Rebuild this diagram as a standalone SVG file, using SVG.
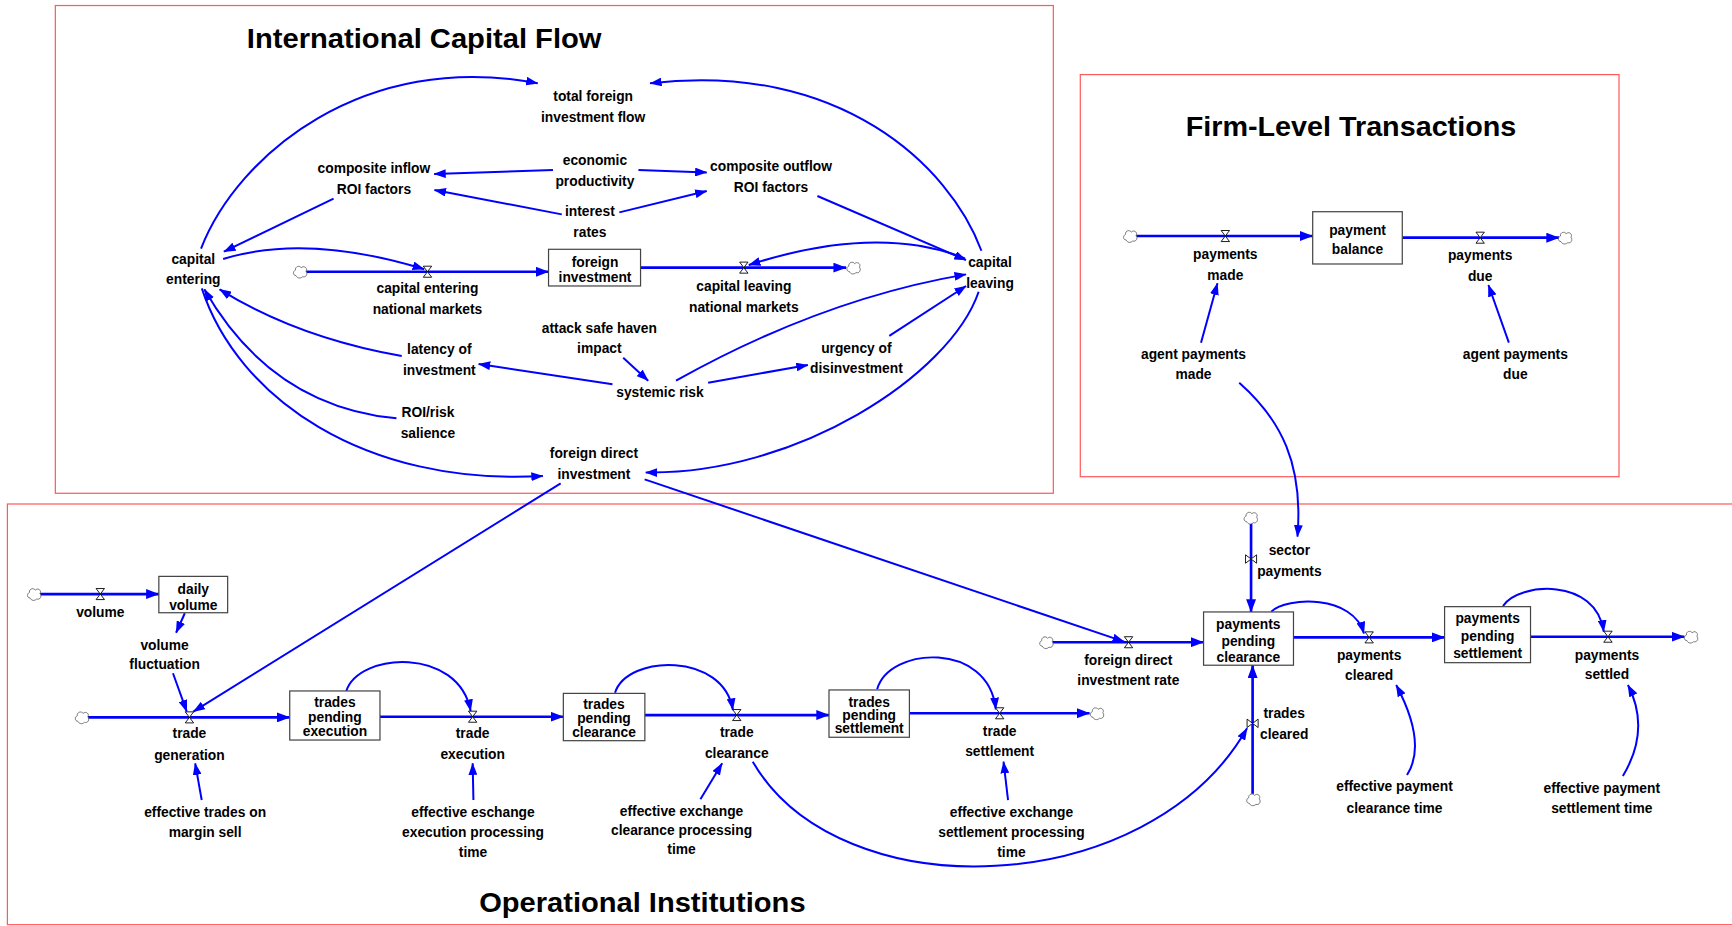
<svg xmlns="http://www.w3.org/2000/svg" width="1732" height="926" viewBox="0 0 1732 926">
<defs>
<style>
text{font-family:"Liberation Sans","DejaVu Sans",sans-serif;font-weight:bold;font-size:12.5px;fill:#000;text-anchor:middle}
.title{font-size:25px;text-anchor:start}
.frame{fill:none;stroke:#ff5a5a;stroke-width:1.1}
.stock{fill:#fff;stroke:#444;stroke-width:1.1}
.link{fill:none;stroke:#0000ff;stroke-width:1.8;marker-end:url(#ah)}
.pipe{fill:none;stroke:#0000ff;stroke-width:2.4;marker-end:url(#fh)}
.pipe0{fill:none;stroke:#0000ff;stroke-width:2.4}
.cloud{fill:#fff;stroke:#555;stroke-width:0.7}
.valve{fill:#fff;stroke:#000;stroke-width:0.8}
</style>
<marker id="ah" markerUnits="userSpaceOnUse" viewBox="0 0 11 8" markerWidth="11" markerHeight="8" refX="10.5" refY="4" orient="auto"><path d="M0,0 L11,4 L0,8 Z" fill="#0000ff"/></marker>
<marker id="fh" markerUnits="userSpaceOnUse" viewBox="0 0 12 9" markerWidth="12" markerHeight="9" refX="11.5" refY="4.5" orient="auto"><path d="M0,0 L12,4.5 L0,9 Z" fill="#0000ff"/></marker>
<symbol id="cl" overflow="visible"><path class="cloud" d="M-4,3.5 C-7,3.5 -7,-0.5 -4.5,-1.5 C-5,-5 -0.5,-6 0.8,-3.5 C2.5,-6 7,-3.5 5,-0.5 C7,2 5,5.5 2,4.5 C0,6.5 -3,6 -4,3.5 Z"/></symbol>
<symbol id="vh" overflow="visible"><path class="valve" d="M-3.8,-5 H3.8 L-3.8,5 H3.8 Z"/></symbol>
<symbol id="vv" overflow="visible"><path class="valve" d="M-5,-3.8 V3.8 L5,-3.8 V3.8 Z"/></symbol>
</defs>
<rect x="0" y="0" width="1732" height="926" fill="#fff"/>
<g transform="scale(1.10459 1.10501)">

<g id="frames">
<rect class="frame" x="50.1" y="5" width="903.5" height="441.4"/>
<rect class="frame" x="978" y="67.5" width="487.7" height="363.9"/>
<rect class="frame" x="6.7" y="456.1" width="1580" height="380.7"/>
<text class="title" x="223.5" y="43.8" textLength="321" lengthAdjust="spacingAndGlyphs">International Capital Flow</text>
<text class="title" x="1073.4" y="123" textLength="299.3" lengthAdjust="spacingAndGlyphs">Firm-Level Transactions</text>
<text class="title" x="433.8" y="825" textLength="295.5" lengthAdjust="spacingAndGlyphs">Operational Institutions</text>
</g>

<g id="connectors">
<!-- flows / pipes -->
<path class="pipe" d="M277,245.9 H496.6"/>
<path class="pipe" d="M580,242.2 H766"/>
<path class="pipe" d="M1028.5,213.6 H1188.4"/>
<path class="pipe" d="M1269.5,215.1 H1411.4"/>
<path class="pipe" d="M36.2,537.6 H143.8"/>
<path class="pipe" d="M79.5,649.2 H262.3"/>
<path class="pipe" d="M344,648.6 H510"/>
<path class="pipe" d="M583.8,647.1 H750.5"/>
<path class="pipe" d="M823.3,645.5 H986.4"/>
<path class="pipe" d="M952.6,581.2 H1089.6"/>
<path class="pipe" d="M1132.6,473.5 V553.8"/>
<path class="pipe" d="M1134,718.4 V602"/>
<path class="pipe" d="M1171,576.8 H1307.8"/>
<path class="pipe" d="M1385.6,576.2 H1524.9"/>
<!-- links -->
<path class="link" d="M182,225 C215,140 330,45 486.8,75.4"/>
<path class="link" d="M888.5,226.9 C860,150 760,55 588.5,75.4"/>
<path class="link" d="M500.6,153.9 L393,157.5"/>
<path class="link" d="M508.6,194 L393.3,172"/>
<path class="link" d="M578,153.9 L639.8,156"/>
<path class="link" d="M560.7,192.2 L639.8,172.9"/>
<path class="link" d="M302,179.8 L202.7,227.8"/>
<path class="link" d="M740,177.4 L874.5,235.3"/>
<path class="link" d="M202,234.4 Q277,211 384,243.6"/>
<path class="link" d="M873.6,233.8 Q794.25,202.4 677.9,239.8"/>
<path class="link" d="M363.7,322.2 Q268.35,305.2 198.8,261.8"/>
<path class="link" d="M358.9,378.6 Q245.45,367.6 185,261.8"/>
<path class="link" d="M182.7,261 C215,360 330,440 491.5,430.8"/>
<path class="link" d="M886,264 C860,340 720,430 584.6,427.5"/>
<path class="link" d="M564.2,323.7 L586.8,344.5"/>
<path class="link" d="M554.5,347.8 L433.3,329.4"/>
<path class="link" d="M641.1,346.3 L731.4,330.3"/>
<path class="link" d="M805.1,304 L874.6,258.8"/>
<path class="link" d="M612,344.5 Q743.9,270.6 874.6,248.3"/>
<path class="link" d="M1087.3,310.1 L1102.2,256.4"/>
<path class="link" d="M1366,310.1 L1347.5,257.9"/>
<path class="link" d="M1121.9,346.3 C1160,380 1180,420 1174.6,485.7"/>
<path class="link" d="M507.6,437.4 L175,644"/>
<path class="link" d="M583.6,433.8 L1017.6,580.7"/>
<path class="link" d="M167.3,555 L159.4,572.6"/>
<path class="link" d="M156.6,609.3 L169.1,644"/>
<path class="link" d="M182.6,724 L176.7,690.8"/>
<path class="link" d="M313.5,625.3 C325,590 415,585 426.1,643.4"/>
<path class="link" d="M428.6,724 L427.9,690.8"/>
<path class="link" d="M556.8,626.9 C568,592 655,590 663.5,642.5"/>
<path class="link" d="M634.1,723.3 L653.8,690.8"/>
<path class="link" d="M794.1,623.8 C805,585 895,580 901.5,641.9"/>
<path class="link" d="M912.6,724 L908.5,689.3"/>
<path class="link" d="M681.5,689.3 C760,825 1040,815 1129,659.1"/>
<path class="link" d="M1150.9,553.5 C1165,540 1225,538 1234.8,573.2"/>
<path class="link" d="M1360.7,548.4 C1375,527 1445,522 1451.9,571.7"/>
<path class="link" d="M1273.8,701.4 Q1292.1,672.75 1264,619.9"/>
<path class="link" d="M1469.2,702.3 Q1494.5,660.1 1473.8,619.9"/>
</g>

<g id="total-foreign-investment-flow"><text><tspan x="537" y="91.1">total foreign</tspan><tspan x="537" y="110.1">investment flow</tspan></text></g>
<g id="composite-inflow-roi-factors"><text><tspan x="338.5" y="156.5">composite inflow</tspan><tspan x="338.5" y="175.5">ROI factors</tspan></text></g>
<g id="economic-productivity"><text><tspan x="538.6" y="149.3">economic</tspan><tspan x="538.6" y="168.3">productivity</tspan></text></g>
<g id="composite-outflow-roi-factors"><text><tspan x="698" y="154.5">composite outflow</tspan><tspan x="698" y="173.5">ROI factors</tspan></text></g>
<g id="interest-rates"><text><tspan x="534" y="195.2">interest</tspan><tspan x="534" y="214.2">rates</tspan></text></g>
<g id="capital-entering"><text><tspan x="175" y="239.2">capital</tspan><tspan x="175" y="257.3">entering</tspan></text></g>
<g id="capital-entering-national-markets"><use href="#cl" x="272" y="245.9"/><use href="#vh" x="387" y="245.9"/><text><tspan x="387" y="265.5">capital entering</tspan><tspan x="387" y="284.5">national markets</tspan></text></g>
<g id="foreign-investment"><rect class="stock" x="496.6" y="225.6" width="83.3" height="33.2"/><text><tspan x="538.7" y="241.9">foreign</tspan><tspan x="538.7" y="255.5">investment</tspan></text></g>
<g id="capital-leaving-national-markets"><use href="#vh" x="673.4" y="242.2"/><use href="#cl" x="773" y="242.2"/><text><tspan x="673.4" y="263">capital leaving</tspan><tspan x="673.4" y="282">national markets</tspan></text></g>
<g id="capital-leaving"><text><tspan x="896.3" y="241.3">capital</tspan><tspan x="896.3" y="260.3">leaving</tspan></text></g>
<g id="attack-safe-haven-impact"><text><tspan x="542.6" y="301.6">attack safe haven</tspan><tspan x="542.6" y="319.7">impact</tspan></text></g>
<g id="latency-of-investment"><text><tspan x="397.7" y="320.6">latency of</tspan><tspan x="397.7" y="339.3">investment</tspan></text></g>
<g id="systemic-risk"><text x="597.5" y="359.5">systemic risk</text></g>
<g id="urgency-of-disinvestment"><text><tspan x="775.3" y="319.1">urgency of</tspan><tspan x="775.3" y="337.2">disinvestment</tspan></text></g>
<g id="roi-risk-salience"><text><tspan x="387.4" y="377">ROI/risk</tspan><tspan x="387.4" y="396.7">salience</tspan></text></g>
<g id="foreign-direct-investment"><text><tspan x="537.7" y="414.8">foreign direct</tspan><tspan x="537.7" y="433.8">investment</tspan></text></g>

<g id="payment-balance"><rect class="stock" x="1188.4" y="191.6" width="81.1" height="47.3"/><text><tspan x="1229" y="212.5">payment</tspan><tspan x="1229" y="230.1">balance</tspan></text></g>
<g id="payments-made"><use href="#cl" x="1023.5" y="213.6"/><use href="#vh" x="1109.3" y="213.6"/><text><tspan x="1109.3" y="234.4">payments</tspan><tspan x="1109.3" y="253.1">made</tspan></text></g>
<g id="payments-due"><use href="#vh" x="1340" y="215.1"/><use href="#cl" x="1417.2" y="215.1"/><text><tspan x="1340" y="235.3">payments</tspan><tspan x="1340" y="254">due</tspan></text></g>
<g id="agent-payments-made"><text><tspan x="1080.5" y="324.9">agent payments</tspan><tspan x="1080.5" y="343.3">made</tspan></text></g>
<g id="agent-payments-due"><text><tspan x="1371.9" y="324.9">agent payments</tspan><tspan x="1371.9" y="343.3">due</tspan></text></g>

<g id="volume"><use href="#cl" x="31.2" y="537.6"/><use href="#vh" x="90.8" y="537.6"/><text x="90.8" y="558">volume</text></g>
<g id="daily-volume"><rect class="stock" x="143.8" y="521.6" width="62.3" height="32.9"/><text><tspan x="175" y="537.2">daily</tspan><tspan x="175" y="551.7">volume</tspan></text></g>
<g id="volume-fluctuation"><text><tspan x="149" y="588.2">volume</tspan><tspan x="149" y="605.7">fluctuation</tspan></text></g>
<g id="trade-generation"><use href="#cl" x="74.5" y="649.2"/><use href="#vh" x="171.5" y="649.2"/><text><tspan x="171.5" y="668.2">trade</tspan><tspan x="171.5" y="687.8">generation</tspan></text></g>
<g id="trades-pending-execution"><rect class="stock" x="262.3" y="625.3" width="81.7" height="44.4"/><text><tspan x="303.2" y="640.1">trades</tspan><tspan x="303.2" y="653.1">pending</tspan><tspan x="303.2" y="666">execution</tspan></text></g>
<g id="trade-execution"><use href="#vh" x="427.9" y="648.6"/><text><tspan x="427.9" y="668.2">trade</tspan><tspan x="427.9" y="687.1">execution</tspan></text></g>
<g id="effective-trades-on-margin-sell"><text><tspan x="185.7" y="739">effective trades on</tspan><tspan x="185.7" y="757.7">margin sell</tspan></text></g>
<g id="effective-eschange-execution-processing-time"><text><tspan x="428.2" y="739">effective eschange</tspan><tspan x="428.2" y="757.2">execution processing</tspan><tspan x="428.2" y="775.3">time</tspan></text></g>
<g id="trades-pending-clearance"><rect class="stock" x="510" y="627.5" width="73.8" height="42.8"/><text><tspan x="546.8" y="641.6">trades</tspan><tspan x="546.8" y="654.3">pending</tspan><tspan x="546.8" y="667">clearance</tspan></text></g>
<g id="trade-clearance"><use href="#vh" x="667" y="647.1"/><text><tspan x="667" y="667.2">trade</tspan><tspan x="667" y="686.2">clearance</tspan></text></g>
<g id="effective-exchange-clearance-processing-time"><text><tspan x="617" y="738.1">effective exchange</tspan><tspan x="617" y="755.6">clearance processing</tspan><tspan x="617" y="773.1">time</tspan></text></g>
<g id="trades-pending-settlement"><rect class="stock" x="750.5" y="624.4" width="72.8" height="42.8"/><text><tspan x="786.9" y="639.5">trades</tspan><tspan x="786.9" y="651.5">pending</tspan><tspan x="786.9" y="663.6">settlement</tspan></text></g>
<g id="trade-settlement"><use href="#vh" x="905" y="645.5"/><use href="#cl" x="993.4" y="645.5"/><text><tspan x="905" y="666">trade</tspan><tspan x="905" y="684.1">settlement</tspan></text></g>
<g id="effective-exchange-settlement-processing-time"><text><tspan x="915.7" y="739">effective exchange</tspan><tspan x="915.7" y="757.2">settlement processing</tspan><tspan x="915.7" y="775.3">time</tspan></text></g>
<g id="foreign-direct-investment-rate"><use href="#cl" x="947.6" y="581.2"/><use href="#vh" x="1021.7" y="581.2"/><text><tspan x="1021.5" y="601.8">foreign direct</tspan><tspan x="1021.5" y="619.9">investment rate</tspan></text></g>
<g id="sector-payments"><use href="#cl" x="1132.6" y="468.5"/><use href="#vv" x="1132.6" y="505.9"/><text><tspan x="1167.3" y="502.2">sector</tspan><tspan x="1167.3" y="520.9">payments</tspan></text></g>
<g id="payments-pending-clearance"><rect class="stock" x="1089.6" y="553.8" width="81.4" height="48.2"/><text><tspan x="1130.1" y="569.2">payments</tspan><tspan x="1130.1" y="584.6">pending</tspan><tspan x="1130.1" y="598.8">clearance</tspan></text></g>
<g id="trades-cleared"><use href="#vv" x="1134" y="654.6"/><use href="#cl" x="1135" y="723.4"/><text><tspan x="1162.6" y="650">trades</tspan><tspan x="1162.6" y="669.1">cleared</tspan></text></g>
<g id="payments-cleared"><use href="#vh" x="1239.5" y="576.8"/><text><tspan x="1239.5" y="597.3">payments</tspan><tspan x="1239.5" y="615.4">cleared</tspan></text></g>
<g id="payments-pending-settlement"><rect class="stock" x="1307.8" y="549" width="77.8" height="50.7"/><text><tspan x="1346.8" y="563.5">payments</tspan><tspan x="1346.8" y="579.8">pending</tspan><tspan x="1346.8" y="595.7">settlement</tspan></text></g>
<g id="payments-settled"><use href="#vh" x="1455.7" y="576.2"/><use href="#cl" x="1531.2" y="576.2"/><text><tspan x="1454.8" y="597.3">payments</tspan><tspan x="1454.8" y="614.8">settled</tspan></text></g>
<g id="effective-payment-clearance-time"><text><tspan x="1262.5" y="715.8">effective payment</tspan><tspan x="1262.5" y="735.4">clearance time</tspan></text></g>
<g id="effective-payment-settlement-time"><text><tspan x="1450.1" y="717.9">effective payment</tspan><tspan x="1450.1" y="736">settlement time</tspan></text></g>
</g>
</svg>
